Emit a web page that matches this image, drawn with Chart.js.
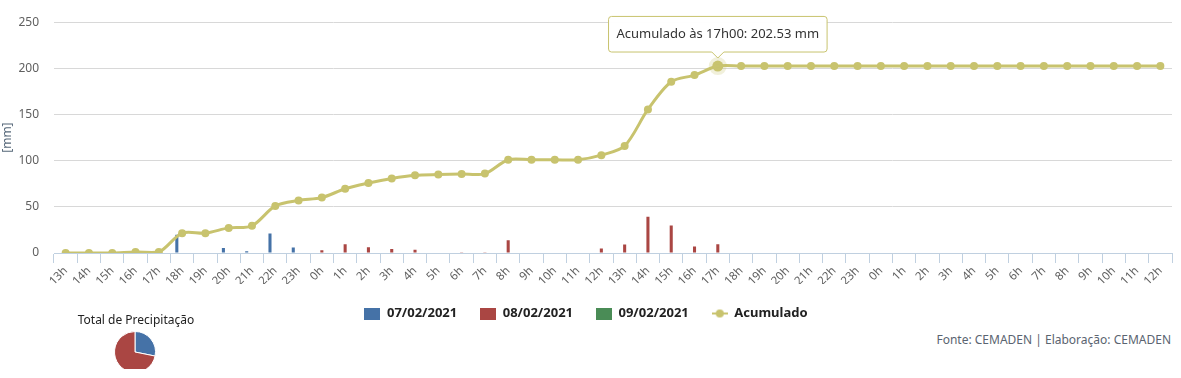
<!DOCTYPE html>
<html>
<head>
<meta charset="utf-8">
<script src="https://cdn.jsdelivr.net/npm/chart.js@4.4.1/dist/chart.umd.min.js"></script>
<style>
  body { margin: 0; background: #fff; font-family: "Noto Sans", sans-serif; }
  #wrap { position: relative; width: 1181px; height: 378px; overflow: hidden; }
  #main { position: absolute; left: 0; top: 0; }
  #pieTitle { position: absolute; left: 36px; top: 311px; width: 200px; text-align: center; font-size: 12px; color: #222; }
  #pieCrop { position: absolute; left: 114px; top: 331px; width: 42px; height: 38px; overflow: hidden; }
  #credits { position: absolute; right: 10px; top: 331px; font-size: 12px; color: #5a6470; }
</style>
</head>
<body>
<div id="wrap">
  <canvas id="main" width="1181" height="330"></canvas>
  <div id="pieTitle">Total de Precipitação</div>
  <div id="pieCrop"><canvas id="pie" width="42" height="42"></canvas></div>
  <div id="credits">Fonte: CEMADEN | Elaboração: CEMADEN</div>
</div>
<script>
// 13h do dia 07 até 12h do dia 09
const horas = [
  '13h','14h','15h','16h','17h','18h','19h','20h','21h','22h','23h',
  '0h','1h','2h','3h','4h','5h','6h','7h','8h','9h','10h','11h','12h',
  '13h','14h','15h','16h','17h','18h','19h','20h','21h','22h','23h',
  '0h','1h','2h','3h','4h','5h','6h','7h','8h','9h','10h','11h','12h'
];

const chuva07 = [
  0, 0, 0, 1.0, 0, 19.8, 0, 5.4, 2.0, 21.2, 6.0,
  null, null, null, null, null, null, null, null, null, null, null, null, null,
  null, null, null, null, null, null, null, null, null, null, null,
  null, null, null, null, null, null, null, null, null, null, null, null, null
];

const chuva08 = [
  null, null, null, null, null, null, null, null, null, null, null,
  3.0, 9.4, 6.2, 4.4, 3.6, 0.6, 0.4, 0.4, 13.8, 0, 0, 0, 4.8,
  9.2, 39.2, 29.8, 7.0, 9.4, 0, 0, 0, 0, 0, 0,
  null, null, null, null, null, null, null, null, null, null, null, null, null
];

const chuva09 = [
  null, null, null, null, null, null, null, null, null, null, null,
  null, null, null, null, null, null, null, null, null, null, null, null, null,
  null, null, null, null, null, null, null, null, null, null, null,
  0, 0, 0, 0, 0, 0, 0, 0, 0, 0, 0, 0, 0
];

const acumulado = [
  0, 0, 0, 1, 1, 21.5, 21.5, 27.2, 29.4, 51, 57,
  60, 69.6, 75.8, 80.8, 84.2, 85, 85.5, 86, 101, 101, 101, 101, 106,
  116, 155.5, 185.5, 192.7, 202.53, 202.53, 202.53, 202.53, 202.53, 202.53, 202.53,
  202.53, 202.53, 202.53, 202.53, 202.53, 202.53, 202.53, 202.53, 202.53, 202.53, 202.53, 202.53, 202.53
];

const dias = ['07/02/2021', '08/02/2021', '09/02/2021'];
const corAzul = '#4572A7';
const corVermelho = '#AA4643';
const corVerde = '#4a8c56';
const corAcum = '#c8c36e';
const idxTooltip = 28;

function caixaLegenda(cor) {
  const c = document.createElement('canvas');
  c.width = 16; c.height = 12;
  const g = c.getContext('2d');
  g.fillStyle = cor;
  g.fillRect(0, 0, 16, 12);
  return c;
}

function linhaLegenda(cor) {
  const c = document.createElement('canvas');
  c.width = 16; c.height = 10;
  const g = c.getContext('2d');
  g.strokeStyle = cor;
  g.lineWidth = 2;
  g.beginPath(); g.moveTo(0, 5); g.lineTo(16, 5); g.stroke();
  g.fillStyle = cor;
  g.beginPath(); g.arc(8, 5, 4, 0, Math.PI * 2); g.fill();
  return c;
}

const ctx = document.getElementById('main').getContext('2d');
const barOpts = { categoryPercentage: 0.68, barPercentage: 0.58, order: 1 };

const chart = new Chart(ctx, {
  type: 'bar',
  data: {
    labels: horas,
    datasets: [
      Object.assign({ label: dias[0], data: chuva07, backgroundColor: corAzul }, barOpts),
      Object.assign({ label: dias[1], data: chuva08, backgroundColor: corVermelho }, barOpts),
      Object.assign({ label: dias[2], data: chuva09, backgroundColor: corVerde }, barOpts),
      {
        type: 'line',
        label: 'Acumulado',
        data: acumulado,
        borderColor: corAcum,
        backgroundColor: corAcum,
        borderWidth: 3,
        tension: 0.3,
        pointRadius: 4,
        pointBorderWidth: 0,
        pointHoverRadius: 5.5,
        pointHoverBorderWidth: 7,
        pointHoverBorderColor: 'rgba(200,195,110,0.25)',
        pointHoverBackgroundColor: corAcum,
        order: 0
      }
    ]
  },
  options: {
    responsive: false,
    animation: false,
    events: [],
    layout: { padding: { top: 21, right: 9, left: 0, bottom: 0 } },
    scales: {
      x: {
        offset: true,
        grid: { display: true, drawOnChartArea: false, drawTicks: true, tickLength: 10, color: '#C0D0E0', offset: true },
        border: { display: true, color: '#C0D0E0' },
        ticks: { autoSkip: false, maxRotation: 45, minRotation: 45, padding: 1, color: '#606060', font: { family: 'Noto Sans', size: 11.5 } },
        afterFit: function (s) { s.height = 31; }
      },
      y: {
        min: 0,
        max: 250,
        ticks: { stepSize: 50, padding: 15, color: '#606060', font: { family: 'Noto Sans', size: 12 } },
        grid: { color: '#D8D8D8', drawTicks: false },
        border: { display: false },
        title: { display: true, text: '[mm]', color: '#56687a', padding: { top: 0, bottom: 0 }, font: { family: 'Noto Sans', size: 12 } },
        afterFit: function (s) { s.width = 54; }
      }
    },
    plugins: {
      legend: {
        position: 'bottom',
        labels: {
          usePointStyle: true,
          pointStyleWidth: 16,
          boxHeight: 12,
          padding: 23,
          color: '#222',
          font: { family: 'Noto Sans', size: 13, weight: 'bold' },
          sort: (a, b) => a.datasetIndex - b.datasetIndex,
          generateLabels: function (c) {
            return c.data.datasets.map((ds, i) => ({
              text: ds.label,
              datasetIndex: i,
              fillStyle: ds.backgroundColor,
              strokeStyle: ds.backgroundColor,
              lineWidth: 0,
              hidden: false,
              fontColor: '#222',
              pointStyle: ds.type === 'line' ? linhaLegenda(corAcum) : caixaLegenda(ds.backgroundColor)
            }));
          }
        }
      },
      tooltip: {
        enabled: true,
        filter: (item) => item.datasetIndex === 3,
        backgroundColor: 'rgba(255,255,255,0.96)',
        borderColor: corAcum,
        borderWidth: 1,
        cornerRadius: 3,
        displayColors: false,
        xAlign: 'center',
        yAlign: 'bottom',
        caretSize: 6,
        caretPadding: 8,
        padding: { x: 8, y: 10 },
        bodyColor: '#333',
        bodyFont: { family: 'Noto Sans', size: 13 },
        callbacks: {
          title: () => '',
          label: (item) => 'Acumulado às ' + horas[item.dataIndex].replace('h', 'h00') + ': ' + item.raw.toFixed(2) + ' mm'
        }
      }
    }
  }
});

const ativo = [{ datasetIndex: 3, index: idxTooltip }];
chart.setActiveElements(ativo);
chart.tooltip.setActiveElements(ativo, { x: 0, y: 0 });
chart.update();

// pizza com os totais de cada dia
const soma = (arr) => arr.reduce((a, v) => a + (v || 0), 0);
new Chart(document.getElementById('pie').getContext('2d'), {
  type: 'pie',
  data: {
    labels: dias,
    datasets: [{
      data: [soma(chuva07), soma(chuva08), soma(chuva09)],
      backgroundColor: [corAzul, corVermelho, corVerde],
      borderColor: '#fff',
      borderWidth: 1
    }]
  },
  options: {
    responsive: false,
    animation: false,
    events: [],
    plugins: { legend: { display: false }, tooltip: { enabled: false } }
  }
});
</script>
</body>
</html>
